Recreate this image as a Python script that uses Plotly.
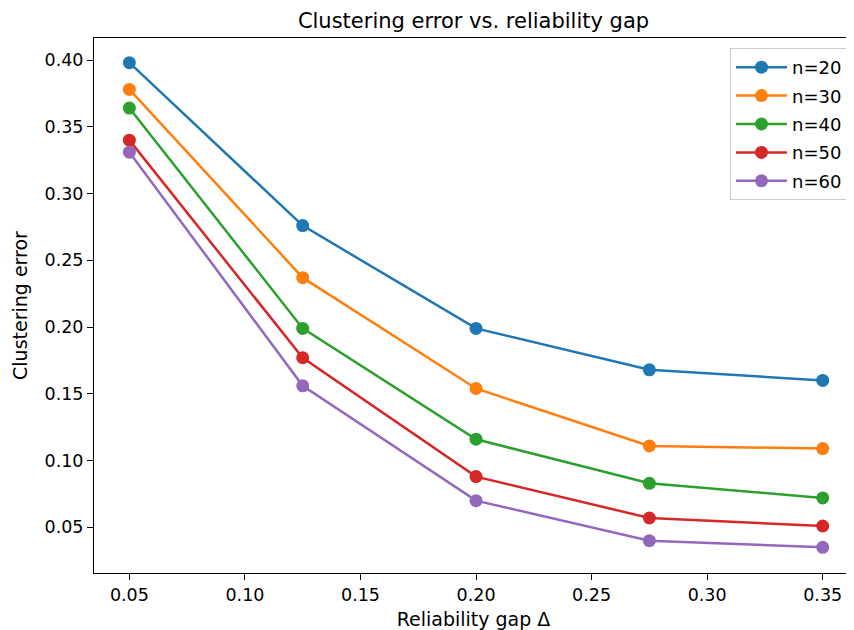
import plotly.graph_objects as go

gaps = [0.05, 0.125, 0.20, 0.275, 0.35]
err_n20 = [0.398, 0.276, 0.199, 0.168, 0.160]
err_n30 = [0.378, 0.237, 0.154, 0.111, 0.109]
err_n40 = [0.364, 0.199, 0.116, 0.083, 0.072]
err_n50 = [0.340, 0.177, 0.088, 0.057, 0.051]
err_n60 = [0.331, 0.156, 0.070, 0.040, 0.035]
series_names = ["n=20", "n=30", "n=40", "n=50", "n=60"]
colors = ["#1f77b4", "#ff7f0e", "#2ca02c", "#d62728", "#9467bd"]
x_ticks = [0.05, 0.10, 0.15, 0.20, 0.25, 0.30, 0.35]
y_ticks = [0.05, 0.10, 0.15, 0.20, 0.25, 0.30, 0.35, 0.40]

font = "DejaVu Sans"
fig = go.Figure()
for name, vals, c in zip(series_names, [err_n20, err_n30, err_n40, err_n50, err_n60], colors):
    fig.add_trace(go.Scatter(
        x=gaps, y=vals, name=name, mode="lines+markers",
        line=dict(color=c, width=2.5), marker=dict(color=c, size=13),
        legendgroup=name,
    ))

axis_common = dict(
    showline=True, mirror=True, linecolor="black", linewidth=1,
    ticks="outside", ticklen=6, tickcolor="black", showgrid=False, zeroline=False,
    tickfont=dict(family=font, size=17.5, color="black"),
)
W, H = 846, 622
L, R, T, B = 86, 1, 30, 57
fig.update_layout(
    width=W, height=H,
    margin=dict(l=L, r=R, t=T, b=B),
    paper_bgcolor="white", plot_bgcolor="white",
    font=dict(family=font, color="black"),
    title=dict(text="Clustering error vs. reliability gap", x=(L + W - R) / 2 / W, xanchor="center",
               y=1 - 13 / H, yanchor="middle",
               font=dict(size=21, family=font, color="black")),
    xaxis=dict(range=[0.0347, 0.3631], tickvals=x_ticks, ticktext=[f"{v:.2f}" for v in x_ticks],
               title=dict(text="Reliability gap Δ", font=dict(size=19, family=font), standoff=8), **axis_common),
    yaxis=dict(range=[0.0158, 0.4165], tickvals=y_ticks, ticktext=[f"{v:.2f}" for v in y_ticks],
               title=dict(text="Clustering error", font=dict(size=19, family=font), standoff=11), **axis_common),
    legend=dict(x=0.9934, y=0.9813, xanchor="right", yanchor="top", bgcolor="white",
                bordercolor="#cccccc", borderwidth=1, font=dict(size=18, family=font),
                tracegroupgap=2, itemwidth=51),
    showlegend=True,
)
fig.write_html("out.html")
